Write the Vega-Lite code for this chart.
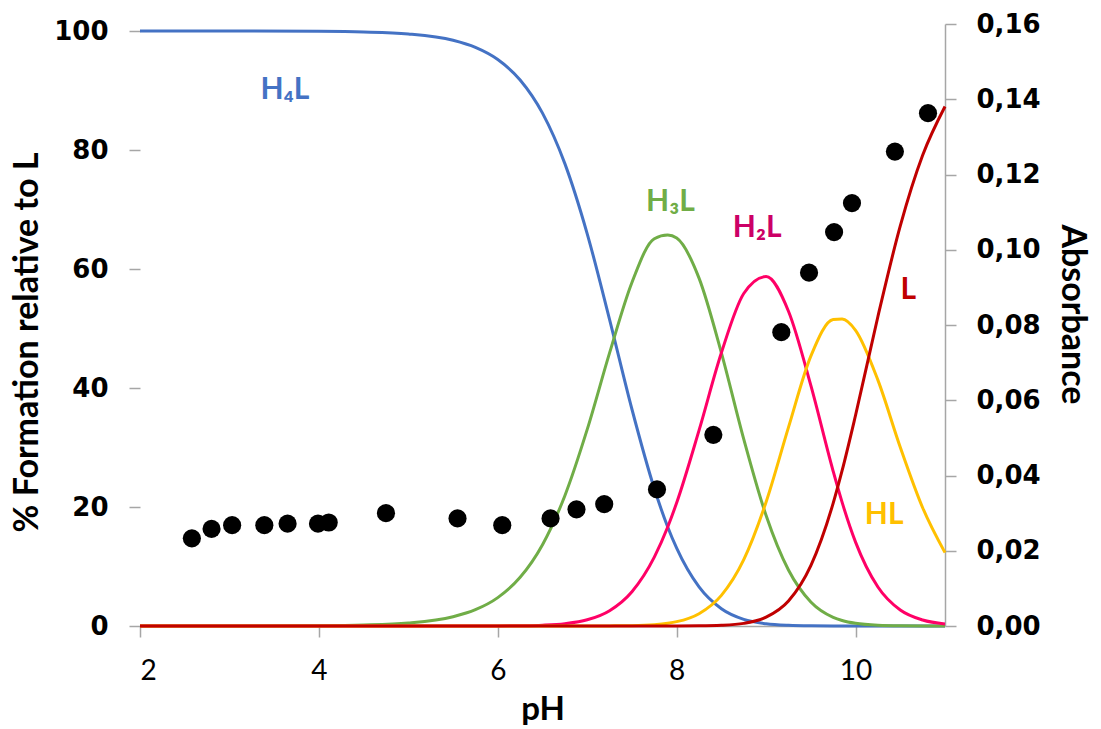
{
  "$schema": "https://vega.github.io/schema/vega-lite/v6.json",
  "width": 805,
  "height": 602,
  "autosize": {"type": "none"},
  "padding": {"left": 140, "top": 24, "right": 156, "bottom": 103},
  "background": "white",
  "config": {"view": {"stroke": null}},
  "datasets": {
    "curves": [
      {"pH": 2, "H4L": 100, "H3L": 0, "H2L": 0, "HL": 0, "L": 0},
      {"pH": 3, "H4L": 100, "H3L": 0, "H2L": 0, "HL": 0, "L": 0},
      {"pH": 4, "H4L": 99.95, "H3L": 0.05, "H2L": 0, "HL": 0, "L": 0},
      {"pH": 4.5, "H4L": 99.84, "H3L": 0.16, "H2L": 0, "HL": 0, "L": 0},
      {"pH": 5, "H4L": 99.5, "H3L": 0.5, "H2L": 0, "HL": 0, "L": 0},
      {"pH": 5.5, "H4L": 98.44, "H3L": 1.56, "H2L": 0, "HL": 0, "L": 0},
      {"pH": 5.75, "H4L": 97.25, "H3L": 2.74, "H2L": 0, "HL": 0, "L": 0},
      {"pH": 6, "H4L": 95.21, "H3L": 4.77, "H2L": 0.02, "HL": 0, "L": 0},
      {"pH": 6.25, "H4L": 91.78, "H3L": 8.18, "H2L": 0.05, "HL": 0, "L": 0},
      {"pH": 6.5, "H4L": 86.2, "H3L": 13.66, "H2L": 0.14, "HL": 0, "L": 0},
      {"pH": 6.75, "H4L": 77.71, "H3L": 21.9, "H2L": 0.39, "HL": 0, "L": 0},
      {"pH": 7, "H4L": 65.92, "H3L": 33.04, "H2L": 1.04, "HL": 0, "L": 0},
      {"pH": 7.25, "H4L": 51.5, "H3L": 45.9, "H2L": 2.58, "HL": 0.02, "L": 0},
      {"pH": 7.5, "H4L": 36.43, "H3L": 57.74, "H2L": 5.77, "HL": 0.06, "L": 0},
      {"pH": 7.75, "H4L": 23.1, "H3L": 65.09, "H2L": 11.58, "HL": 0.23, "L": 0},
      {"pH": 7.9, "H4L": 16.64, "H3L": 65.7, "H2L": 16.64, "HL": 0.47, "L": 0},
      {"pH": 8, "H4L": 13.07, "H3L": 65.2, "H2L": 20.71, "HL": 0.73, "L": 0.01},
      {"pH": 8.25, "H4L": 6.56, "H3L": 58.47, "H2L": 32.88, "HL": 2.07, "L": 0.03},
      {"pH": 8.5, "H4L": 2.9, "H3L": 45.92, "H2L": 45.92, "HL": 5.15, "L": 0.12},
      {"pH": 8.75, "H4L": 1.11, "H3L": 31.42, "H2L": 55.88, "HL": 11.15, "L": 0.44},
      {"pH": 9, "H4L": 0.37, "H3L": 18.57, "H2L": 58.74, "HL": 20.84, "L": 1.48},
      {"pH": 9.25, "H4L": 0.11, "H3L": 9.41, "H2L": 52.91, "HL": 33.38, "L": 4.2},
      {"pH": 9.5, "H4L": 0.03, "H3L": 4.04, "H2L": 40.43, "HL": 45.35, "L": 10.15},
      {"pH": 9.75, "H4L": 0.01, "H3L": 1.46, "H2L": 26.0, "HL": 51.5, "L": 20.65},
      {"pH": 9.85, "H4L": 0, "H3L": 0.93, "H2L": 20.77, "HL": 51.6, "L": 26.14},
      {"pH": 10, "H4L": 0, "H3L": 0.45, "H2L": 14.1, "HL": 49.7, "L": 35.42},
      {"pH": 10.25, "H4L": 0, "H3L": 0.12, "H2L": 6.55, "HL": 41.32, "L": 52.02},
      {"pH": 10.5, "H4L": 0, "H3L": 0.03, "H2L": 2.68, "HL": 30.04, "L": 67.25},
      {"pH": 10.75, "H4L": 0, "H3L": 0.01, "H2L": 1.0, "HL": 19.88, "L": 79.12},
      {"pH": 11, "H4L": 0, "H3L": 0, "H2L": 0.35, "HL": 12.33, "L": 87.32}
    ],
    "labels": [
      {"pH": 3.62, "pct": 90.1, "text": "H₄L", "species": "H4L"},
      {"pH": 7.93, "pct": 71.3, "text": "H₃L", "species": "H3L"},
      {"pH": 8.9, "pct": 66.9, "text": "H₂L", "species": "H2L"},
      {"pH": 10.59, "pct": 56.5, "text": "L", "species": "L"},
      {"pH": 10.32, "pct": 18.7, "text": "HL", "species": "HL"}
    ],
    "absorbance": [
      {"pH": 2.58, "abs": 0.0233},
      {"pH": 2.8, "abs": 0.0258},
      {"pH": 3.03, "abs": 0.0268},
      {"pH": 3.39, "abs": 0.0268},
      {"pH": 3.65, "abs": 0.0272},
      {"pH": 3.99, "abs": 0.0272},
      {"pH": 4.11, "abs": 0.0275},
      {"pH": 4.75, "abs": 0.03},
      {"pH": 5.55, "abs": 0.0286},
      {"pH": 6.05, "abs": 0.0268},
      {"pH": 6.59, "abs": 0.0286},
      {"pH": 6.88, "abs": 0.031},
      {"pH": 7.19, "abs": 0.0324},
      {"pH": 7.78, "abs": 0.0363},
      {"pH": 8.41, "abs": 0.0508},
      {"pH": 9.17, "abs": 0.0781},
      {"pH": 9.48, "abs": 0.0939},
      {"pH": 9.76, "abs": 0.1047},
      {"pH": 9.96, "abs": 0.1124},
      {"pH": 10.44, "abs": 0.1261},
      {"pH": 10.81, "abs": 0.1363}
    ]
  },
  "layer": [
    {
      "layer": [
        {
          "data": {"name": "curves"},
          "transform": [{"fold": ["H4L", "H3L", "H2L", "HL", "L"], "as": ["species", "pct"]}],
          "mark": {"type": "line", "strokeWidth": 3, "interpolate": "monotone"},
          "encoding": {
            "x": {
              "field": "pH", "type": "quantitative",
              "scale": {"domain": [2, 11], "nice": false, "zero": false},
              "axis": {
                "title": "pH", "values": [2, 4, 6, 8, 10], "format": "d", "grid": false,
                "domainColor": "#A6A6A6", "domainWidth": 1.5,
                "tickColor": "#A6A6A6", "tickWidth": 1.5, "tickSize": 11,
                "labelFont": "Lato", "labelFontSize": 28, "labelColor": "#000000", "labelPadding": 20,
                "titleFont": "Lato", "titleFontSize": 33, "titleFontWeight": "bold", "titleColor": "#000000", "titlePadding": 8
              }
            },
            "y": {
              "field": "pct", "type": "quantitative",
              "scale": {"domain": [0, 101.18], "nice": false},
              "axis": {
                "title": "% Formation relative to L", "values": [0, 20, 40, 60, 80, 100], "grid": false,
                "domain": false,
                "tickColor": "#A6A6A6", "tickWidth": 1.5, "tickSize": 11,
                "labelFont": "DejaVu Sans", "labelFontWeight": "bold", "labelFontSize": 26, "labelColor": "#000000", "labelPadding": 21,
                "titleFont": "Lato", "titleFontSize": 34, "titleFontWeight": "bold", "titleColor": "#000000", "titlePadding": 9,
                "titleY": 318
              }
            },
            "color": {
              "field": "species", "type": "nominal",
              "scale": {"domain": ["H4L", "H3L", "H2L", "HL", "L"], "range": ["#4472C4", "#70AD47", "#FF0066", "#FFC000", "#C00000"]},
              "legend": null
            }
          }
        },
        {
          "data": {"name": "labels"},
          "mark": {"type": "text", "font": "Lato", "fontWeight": "bold", "fontSize": 30, "align": "center", "baseline": "middle"},
          "encoding": {
            "x": {"field": "pH", "type": "quantitative"},
            "y": {"field": "pct", "type": "quantitative"},
            "text": {"field": "text"},
            "fill": {
              "field": "species", "type": "nominal",
              "scale": {"domain": ["H4L", "H3L", "H2L", "HL", "L"], "range": ["#4472C4", "#70AD47", "#CC0066", "#FFC000", "#C00000"]},
              "legend": null
            }
          }
        },
        {
          "mark": {"type": "rule", "color": "#A6A6A6", "strokeWidth": 1.5},
          "encoding": {
            "x": {"datum": 2, "type": "quantitative"},
            "y": {"datum": 0, "type": "quantitative"},
            "y2": {"datum": 100}
          }
        }
      ]
    },
    {
      "data": {"name": "absorbance"},
      "mark": {"type": "point", "filled": true, "color": "#000000", "opacity": 1, "size": 330},
      "encoding": {
        "x": {"field": "pH", "type": "quantitative"},
        "y": {
          "field": "abs", "type": "quantitative",
          "scale": {"domain": [0, 0.16], "nice": false},
          "axis": {
            "orient": "right", "title": "Absorbance", "values": [0, 0.02, 0.04, 0.06, 0.08, 0.1, 0.12, 0.14, 0.16], "grid": false,
            "labelExpr": "replace(format(datum.value, '.2f'), '.', ',')",
            "domainColor": "#A6A6A6", "domainWidth": 1.5,
            "tickColor": "#A6A6A6", "tickWidth": 1.5, "tickSize": 11,
            "labelFont": "DejaVu Sans", "labelFontWeight": "bold", "labelFontSize": 26, "labelColor": "#000000", "labelPadding": 20,
            "titleFont": "Lato", "titleFontSize": 34, "titleFontWeight": "bold", "titleColor": "#000000", "titlePadding": 14,
            "titleY": 290
          }
        }
      }
    }
  ],
  "resolve": {"scale": {"y": "independent"}}
}
